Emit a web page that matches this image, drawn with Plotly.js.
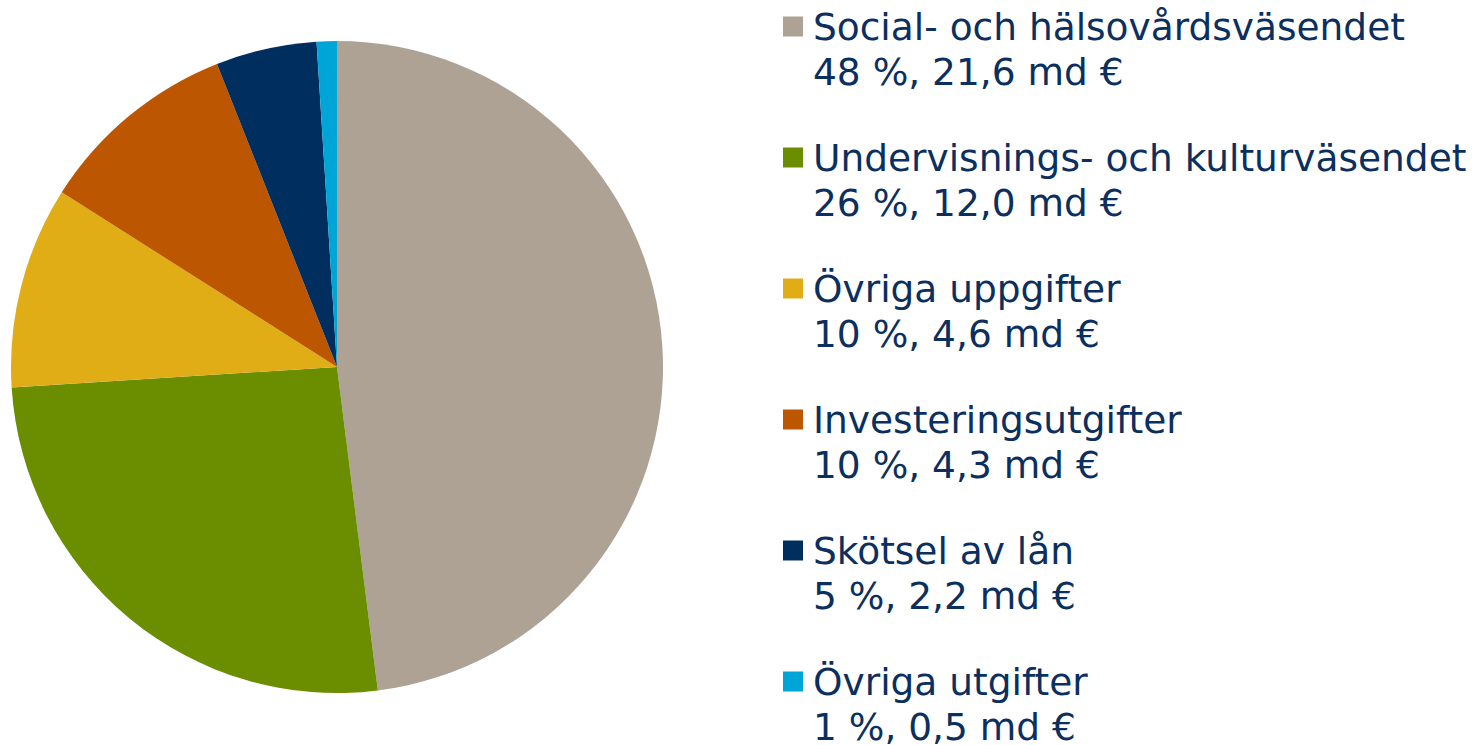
<!DOCTYPE html>
<html><head><meta charset="utf-8">
<script src="https://cdn.plot.ly/plotly-3.0.1.min.js"></script>
<style>html,body{margin:0;padding:0;background:#fff}#chart{width:1482px;height:745px}</style>
</head><body><div id="chart"></div>
<script>
const categories = ["Social- och hälsovårdsväsendet","Undervisnings- och kulturväsendet","Övriga uppgifter","Investeringsutgifter","Skötsel av lån","Övriga utgifter"];
const percents = [48, 26, 10, 10, 5, 1];
const amounts = [21.6, 12.0, 4.6, 4.3, 2.2, 0.5];
const valueLabels = ["48 %, 21,6 md €","26 %, 12,0 md €","10 %, 4,6 md €","10 %, 4,3 md €","5 %, 2,2 md €","1 %, 0,5 md €"];
const colors = ["#ADA294","#6A8E00","#E0AD16","#BC5600","#002F5F","#00A5D8"];

const W = 1482, H = 745;
const textColor = "#0B2F5E";
const fontSize = 37.5;
const font = {family:"Verdana, DejaVu Sans, sans-serif", size:fontSize, color:textColor};
const shapes = [], annotations = [];
categories.forEach((c, i) => {
  const base1 = 40 + 131 * i;   // baseline of first line (px from top)
  const base2 = base1 + 45;
  shapes.push({type:"rect", xref:"paper", yref:"paper",
    x0:783/W, x1:803/W, y0:1-(base1-23.5)/H, y1:1-(base1-3.5)/H,
    fillcolor:colors[i], line:{width:0}});
  [[c, base1], [valueLabels[i], base2]].forEach(([t, b]) => {
    annotations.push({xref:"paper", yref:"paper", x:811/W, y:1-(b-13)/H,
      xanchor:"left", yanchor:"middle", align:"left", showarrow:false,
      text:t, font:font});
  });
});

Plotly.newPlot("chart", [{
  type:"pie", labels:categories, values:percents, customdata:amounts, sort:false, direction:"clockwise",
  rotation:0, marker:{colors:colors, line:{width:0}}, textinfo:"none",
  hovertemplate:"%{label}<br>%{value} %, %{customdata} md €<extra></extra>",
  domain:{x:[11/W, 663/W], y:[1-693/H, 1-41/H]}
}], {
  width:W, height:H, margin:{l:0,r:0,t:0,b:0}, showlegend:false,
  paper_bgcolor:"#fff", shapes:shapes, annotations:annotations
}, {displayModeBar:false, staticPlot:true});
</script></body></html>
